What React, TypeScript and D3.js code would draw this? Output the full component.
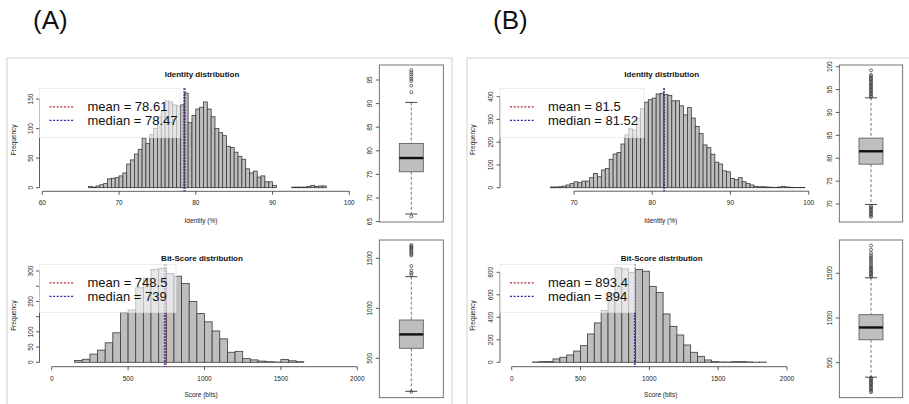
import React from "react";
import * as d3 from "d3";

const FONT = '"Liberation Sans", Arial, Helvetica, sans-serif';

// ---------------- data ----------------
const panelLabels = ["(A)", "(B)"];

// Identity histograms (bin width 0.5)
const identityStartA = 66;
const identityCountsA = [
  2, 1, 3, 5, 7, 15, 16, 17, 20, 25, 40, 47, 57, 65, 84, 75, 90, 100, 120, 130,
  147, 145, 140, 138, 140, 160, 110, 122, 133, 136, 145, 133, 120, 100, 93, 88,
  70, 68, 60, 53, 48, 32, 25, 28, 18, 20, 10, 10, 4, 0, 0, 0, 0, 1, 1, 1, 1, 2,
  4, 2, 3, 3,
];
const identityStartB = 67;
const identityCountsB = [
  3, 3, 4, 7, 12, 18, 26, 22, 29, 29, 44, 63, 48, 78, 85, 125, 148, 155, 192,
  232, 259, 253, 306, 347, 376, 387, 394, 412, 415, 410, 406, 382, 382, 360,
  320, 352, 306, 269, 238, 188, 176, 147, 112, 104, 74, 70, 41, 35, 44, 26, 18,
  12, 6, 4, 4, 3, 2, 1, 3, 6, 3, 2, 1, 1, 1,
];
const identityStep = 0.5;

// Bit-score histograms (bin width 50)
const scoreStart = 150;
const scoreStep = 50;
const scoreCountsA = [
  6, 10, 27, 40, 64, 97, 163, 172, 245, 275, 305, 308, 292, 283, 259, 200, 160,
  133, 103, 77, 33, 36, 12, 8, 4, 2, 1, 9, 5, 2,
];
const scoreCountsB = [
  3, 6, 8, 30, 45, 65, 100, 148, 252, 350, 460, 610, 840, 830, 800, 825, 810,
  675, 620, 430, 320, 243, 154, 89, 53, 21, 6, 3, 3, 6, 6, 4, 1, 2,
];

// mean, median
const identityMeanMedianA = [78.61, 78.47];
const scoreMeanMedianA = [748.5, 739];
const identityMeanMedianB = [81.5, 81.52];
const scoreMeanMedianB = [893.4, 894];

// box stats: lower whisker, Q1, median, Q3, upper whisker
const boxIdentityA = [66.6, 75.55, 78.47, 81.57, 90.25];
const outIdentityA = [66.1, 92.4, 93.8, 94.8, 95.2, 95.7, 96.2, 96.6, 97.1];
const boxScoreA = [170, 600, 739, 883, 1316];
const outScoreA = [165, 1335, 1355, 1378, 1423, 1528, 1540, 1555, 1570, 1585, 1598, 1610, 1622, 1633];
const boxIdentityB = [69.9, 78.7, 81.52, 84.4, 93.2];
const outIdentityB = [
  67.2, 67.5, 67.8, 68.1, 68.4, 68.7, 69.0, 69.3, 69.6, 93.4, 93.7, 94.0, 94.3,
  94.6, 94.9, 95.2, 95.5, 95.8, 96.1, 96.4, 96.7, 97.0, 97.3, 97.6, 97.9, 98.2, 99.2,
];
const boxScoreB = [338, 756, 894, 1037, 1450];
const outScoreB = [
  170, 185, 200, 215, 230, 245, 260, 275, 290, 305, 320, 330, 1462, 1475, 1490,
  1505, 1520, 1535, 1550, 1565, 1580, 1600, 1620, 1640, 1660, 1680, 1700, 1725,
  1764, 1810,
];

// ticks
const identityTicksA = [60, 70, 80, 90, 100];
const identityTicksB = [70, 80, 90, 100];
const scoreTicks = [0, 500, 1000, 1500, 2000];
const freqTicksIdA = [0, 50, 100, 150];
const freqTicksScA = [0, 50, 100, 150, 200, 250, 300];
const freqLabelsScA = [0, 50, 100, 200, 300];
const freqTicksIdB = [0, 100, 200, 300, 400];
const freqTicksScB = [0, 200, 400, 600, 800];
const boxTicksIdA = [65, 70, 75, 80, 85, 90, 95];
const boxTicksIdB = [70, 75, 80, 85, 90, 95, 100];
const boxTicksSc = [500, 1000, 1500];

// ---------------- styles ----------------
const MEAN_COL = "#b3262a";
const MEDIAN_COL = "#2b2ba6";
const AXIS_COL = "#333";
const BAR_FILL = "#bebebe";
const BAR_STROKE = "#3a3a3a";

type Legend = { x0: number; x1: number; y0: number; y1: number };

type HistProps = {
  counts: number[];
  start: number;
  step: number;
  xDomain: [number, number];
  xRange: [number, number];
  yDomain: [number, number];
  yRange: [number, number];
  xTicks: number[];
  yTicks: number[];
  yLabels?: number[];
  xAxisY: number;
  yAxisX: number;
  plotTop: number;
  title: string;
  titleX: number;
  titleY: number;
  xTitle: string;
  xTitleY: number;
  freqX: number;
  meanMedian: number[];
  legend: Legend;
};

function Histogram(p: HistProps) {
  const x = d3.scaleLinear().domain(p.xDomain).range(p.xRange);
  const y = d3.scaleLinear().domain(p.yDomain).range(p.yRange);
  const bins = p.counts.map((c, i) => ({
    x0: p.start + i * p.step,
    x1: p.start + (i + 1) * p.step,
    c,
  }));
  const labels = p.yLabels ?? p.yTicks;
  const [mean, median] = p.meanMedian;
  const yMid = (p.plotTop + p.xAxisY) / 2;
  const L = p.legend;
  const row1 = L.y0 + 18.5;
  const row2 = L.y0 + 32;
  return (
    <g>
      <text x={p.titleX} y={p.titleY} textAnchor="middle" dominantBaseline="central"
        fontFamily={FONT} fontSize={8} fontWeight="bold" fill="#111">{p.title}</text>
      {bins.map((b, i) => (
        <rect key={i} x={x(b.x0)} y={y(b.c)} width={x(b.x1) - x(b.x0)}
          height={Math.max(0, y(0) - y(b.c))} fill={BAR_FILL} stroke={BAR_STROKE} strokeWidth={0.8} />
      ))}
      {/* x axis */}
      <line x1={x(p.xTicks[0])} x2={x(p.xTicks[p.xTicks.length - 1])} y1={p.xAxisY} y2={p.xAxisY}
        stroke={AXIS_COL} strokeWidth={0.8} />
      {p.xTicks.map((t) => (
        <g key={t}>
          <line x1={x(t)} x2={x(t)} y1={p.xAxisY} y2={p.xAxisY + 3.5} stroke={AXIS_COL} strokeWidth={0.8} />
          <text x={x(t)} y={p.xAxisY + 11.5} textAnchor="middle" dominantBaseline="central"
            fontFamily={FONT} fontSize={6.5} fill="#222">{t}</text>
        </g>
      ))}
      <text x={p.titleX - 1} y={p.xTitleY} textAnchor="middle" dominantBaseline="central"
        fontFamily={FONT} fontSize={6.5} fill="#222">{p.xTitle}</text>
      {/* y axis */}
      <line x1={p.yAxisX} x2={p.yAxisX} y1={y(p.yTicks[0])} y2={y(p.yTicks[p.yTicks.length - 1])}
        stroke={AXIS_COL} strokeWidth={0.8} />
      {p.yTicks.map((t) => (
        <line key={t} x1={p.yAxisX - 3.5} x2={p.yAxisX} y1={y(t)} y2={y(t)} stroke={AXIS_COL} strokeWidth={0.8} />
      ))}
      {labels.map((t) => (
        <text key={t} transform={`translate(${p.yAxisX - 9.5},${y(t)}) rotate(-90)`} textAnchor="middle"
          dominantBaseline="central" fontFamily={FONT} fontSize={6.5} fill="#222">{t}</text>
      ))}
      <text transform={`translate(${p.freqX},${yMid}) rotate(-90)`} textAnchor="middle"
        dominantBaseline="central" fontFamily={FONT} fontSize={6.5} fill="#222">Frequency</text>
      {/* mean / median lines */}
      <line x1={x(mean)} x2={x(mean)} y1={p.plotTop} y2={p.xAxisY} stroke={MEAN_COL}
        strokeWidth={1.5} strokeDasharray="1.5 1.5" />
      <line x1={x(median)} x2={x(median)} y1={p.plotTop} y2={p.xAxisY} stroke={MEDIAN_COL}
        strokeWidth={1.5} strokeDasharray="1.5 1.5" />
      {/* legend */}
      <rect x={L.x0} y={L.y0} width={L.x1 - L.x0} height={L.y1 - L.y0} fill="#fff" fillOpacity={0.62}
        stroke="#e2e2e2" strokeWidth={0.6} />
      <line x1={L.x0 + 10} x2={L.x0 + 34} y1={row1} y2={row1} stroke={MEAN_COL} strokeWidth={1.3} strokeDasharray="2 1.6" />
      <line x1={L.x0 + 10} x2={L.x0 + 34} y1={row2} y2={row2} stroke={MEDIAN_COL} strokeWidth={1.3} strokeDasharray="2 1.6" />
      <text x={L.x0 + 48} y={row1} dominantBaseline="central" fontFamily={FONT} fontSize={13} fill="#111">
        {`mean = ${mean}`}
      </text>
      <text x={L.x0 + 48} y={row2} dominantBaseline="central" fontFamily={FONT} fontSize={13} fill="#111">
        {`median = ${median}`}
      </text>
    </g>
  );
}

type BoxProps = {
  frame: Legend;
  yDomain: [number, number];
  yRange: [number, number];
  ticks: number[];
  stats: number[];
  outliers: number[];
};

function BoxPlot(p: BoxProps) {
  const y = d3.scaleLinear().domain(p.yDomain).range(p.yRange);
  const F = p.frame;
  const cx = (F.x0 + F.x1) / 2;
  const hw = 12;
  const [lo, q1, med, q3, hi] = p.stats;
  return (
    <g>
      <rect x={F.x0} y={F.y0} width={F.x1 - F.x0} height={F.y1 - F.y0} fill="none" stroke="#555" strokeWidth={0.8} />
      {p.ticks.map((t) => (
        <g key={t}>
          <line x1={F.x0 - 3.5} x2={F.x0} y1={y(t)} y2={y(t)} stroke={AXIS_COL} strokeWidth={0.8} />
          <text transform={`translate(${F.x0 - 9.5},${y(t)}) rotate(-90)`} textAnchor="middle"
            dominantBaseline="central" fontFamily={FONT} fontSize={6.5} fill="#222">{t}</text>
        </g>
      ))}
      <line x1={cx} x2={cx} y1={y(hi)} y2={y(q3)} stroke="#555" strokeWidth={0.8} strokeDasharray="3 2" />
      <line x1={cx} x2={cx} y1={y(q1)} y2={y(lo)} stroke="#555" strokeWidth={0.8} strokeDasharray="3 2" />
      <line x1={cx - hw / 2} x2={cx + hw / 2} y1={y(hi)} y2={y(hi)} stroke="#333" strokeWidth={0.9} />
      <line x1={cx - hw / 2} x2={cx + hw / 2} y1={y(lo)} y2={y(lo)} stroke="#333" strokeWidth={0.9} />
      <rect x={cx - hw} y={y(q3)} width={2 * hw} height={y(q1) - y(q3)} fill={BAR_FILL} stroke="#555" strokeWidth={0.8} />
      <line x1={cx - hw} x2={cx + hw} y1={y(med)} y2={y(med)} stroke="#111" strokeWidth={2.4} />
      {p.outliers.map((o, i) => (
        <circle key={i} cx={cx} cy={y(o)} r={1.5} fill="none" stroke="#333" strokeWidth={0.7} />
      ))}
    </g>
  );
}

export default function App() {
  return (
    <svg width={909} height={404} style={{ position: "absolute", left: 0, top: 0, background: "#fff" }}>
      <rect x={0} y={0} width={909} height={404} fill="#fff" />
      <text x={33} y={29} fontFamily={FONT} fontSize={26} fill="#111">{panelLabels[0]}</text>
      <text x={493} y={29} fontFamily={FONT} fontSize={26} fill="#111">{panelLabels[1]}</text>
      <rect x={7} y={58} width={445} height={400} fill="none" stroke="#cfcfcf" strokeWidth={1} />
      <rect x={467} y={58} width={460} height={400} fill="none" stroke="#cfcfcf" strokeWidth={1} />

      <Histogram counts={identityCountsA} start={identityStartA} step={identityStep}
        xDomain={[60, 100]} xRange={[42.3, 349.3]} yDomain={[0, 150]} yRange={[187.7, 99]}
        xTicks={identityTicksA} yTicks={freqTicksIdA} xAxisY={191.3} yAxisX={39.5} plotTop={88.3}
        title="Identity distribution" titleX={202} titleY={74} xTitle="Identity (%)" xTitleY={220}
        freqX={13} meanMedian={identityMeanMedianA} legend={{ x0: 39.5, x1: 180, y0: 88.3, y1: 137.7 }} />
      <Histogram counts={scoreCountsA} start={scoreStart} step={scoreStep}
        xDomain={[0, 2000]} xRange={[51.7, 357.3]} yDomain={[0, 300]} yRange={[362.3, 271]}
        xTicks={scoreTicks} yTicks={freqTicksScA} yLabels={freqLabelsScA} xAxisY={366.7} yAxisX={39.5}
        plotTop={264.3} title="Bit-Score distribution" titleX={202} titleY={258.3} xTitle="Score (bits)"
        xTitleY={394.3} freqX={13} meanMedian={scoreMeanMedianA} legend={{ x0: 39.5, x1: 176, y0: 264.3, y1: 312.3 }} />
      <Histogram counts={identityCountsB} start={identityStartB} step={identityStep}
        xDomain={[70, 100]} xRange={[574, 808.7]} yDomain={[0, 400]} yRange={[187.7, 96.7]}
        xTicks={identityTicksB} yTicks={freqTicksIdB} xAxisY={191.2} yAxisX={500} plotTop={88.3}
        title="Identity distribution" titleX={661.7} titleY={74} xTitle="Identity (%)" xTitleY={220}
        freqX={472.7} meanMedian={identityMeanMedianB} legend={{ x0: 500, x1: 644, y0: 88.3, y1: 137.7 }} />
      <Histogram counts={scoreCountsB} start={scoreStart} step={scoreStep}
        xDomain={[0, 2000]} xRange={[511.7, 787]} yDomain={[0, 800]} yRange={[362.3, 272.3]}
        xTicks={scoreTicks} yTicks={freqTicksScB} xAxisY={366.7} yAxisX={500} plotTop={264.3}
        title="Bit-Score distribution" titleX={661.7} titleY={258.3} xTitle="Score (bits)" xTitleY={394.3}
        freqX={472.7} meanMedian={scoreMeanMedianB} legend={{ x0: 500, x1: 635, y0: 264.3, y1: 312.3 }} />

      <BoxPlot frame={{ x0: 379.3, x1: 443.3, y0: 65, y1: 222 }} yDomain={[65, 95]} yRange={[221.6, 80]}
        ticks={boxTicksIdA} stats={boxIdentityA} outliers={outIdentityA} />
      <BoxPlot frame={{ x0: 379.3, x1: 443.3, y0: 240, y1: 397.7 }} yDomain={[500, 1500]} yRange={[358.3, 258.3]}
        ticks={boxTicksSc} stats={boxScoreA} outliers={outScoreA} />
      <BoxPlot frame={{ x0: 839.3, x1: 902.7, y0: 65, y1: 222 }} yDomain={[70, 100]} yRange={[204, 66.7]}
        ticks={boxTicksIdB} stats={boxIdentityB} outliers={outIdentityB} />
      <BoxPlot frame={{ x0: 839.3, x1: 902.7, y0: 240, y1: 397.7 }} yDomain={[500, 1500]} yRange={[362.7, 273.3]}
        ticks={boxTicksSc} stats={boxScoreB} outliers={outScoreB} />
    </svg>
  );
}
